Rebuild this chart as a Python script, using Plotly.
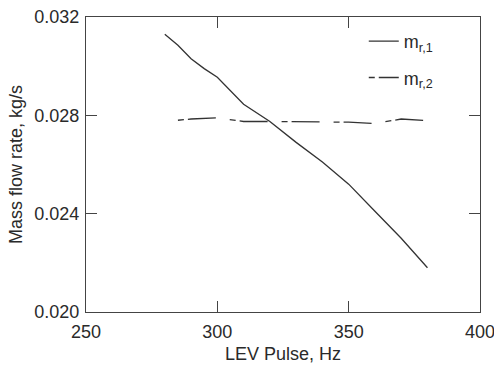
import plotly.graph_objects as go

# LEV pulse frequency (Hz) and refrigerant mass flow rates (kg/s)
pulse_r1 = [280, 285, 290, 295, 300, 305, 310, 320, 330, 340, 350, 360, 370, 380]
flow_r1 = [0.0313, 0.03085, 0.0303, 0.0299, 0.02955, 0.0290, 0.02845, 0.02775,
           0.0269, 0.0261, 0.0252, 0.0241, 0.0230, 0.0218]

pulse_r2 = [285, 290, 300, 310, 320, 330, 340, 350, 360, 370, 380]
flow_r2 = [0.0278, 0.02785, 0.0279, 0.02775, 0.02775, 0.02775, 0.02775,
           0.02772, 0.02767, 0.02785, 0.02778]

x_ticks = [250, 300, 350, 400]
y_ticks = [0.020, 0.024, 0.028, 0.032]
y_tick_text = ["0.020", "0.024", "0.028", "0.032"]

ink = "#2a2a2a"
font = dict(family="Liberation Sans, Arial, sans-serif", size=18, color=ink)

fig = go.Figure()
fig.add_trace(go.Scatter(
    x=pulse_r1, y=flow_r1, mode="lines", name="m<sub>r,1</sub>",
    line=dict(color="#333333", width=1.3), legendgroup="a",
))
fig.add_trace(go.Scatter(
    x=pulse_r2, y=flow_r2, mode="lines", name="m<sub>r,2</sub>",
    line=dict(color="#333333", width=1.3, dash="6px,4px,28px,14px"),
    legendgroup="b",
))

axis_common = dict(
    showline=True, linecolor="#444444", linewidth=1.2, mirror="ticks",
    ticks="inside", ticklen=11, tickwidth=1.2, tickcolor="#444444",
    showgrid=False, zeroline=False, tickfont=font,
    automargin=False, ticklabeloverflow="allow",
)

fig.update_layout(
    width=494, height=368,
    margin=dict(l=86, r=14, t=17, b=56, autoexpand=False),
    paper_bgcolor="white", plot_bgcolor="white",
    font=font,
    showlegend=True,
    legend=dict(
        x=0.705, y=0.98, xanchor="left", yanchor="top",
        bgcolor="rgba(0,0,0,0)", font=dict(family=font["family"], size=18, color=ink),
        tracegroupgap=10,
    ),
    xaxis=dict(
        range=[250, 400], tickvals=x_ticks,
        ticklabelstandoff=3,
        title=dict(text="LEV Pulse, Hz", font=font, standoff=6),
        **axis_common,
    ),
    yaxis=dict(
        range=[0.020, 0.032], tickvals=y_ticks, ticktext=y_tick_text,
        ticklabelstandoff=2,
        title=dict(text="Mass flow rate, kg/s", font=font, standoff=6),
        **axis_common,
    ),
)

fig.write_html("out.html")
